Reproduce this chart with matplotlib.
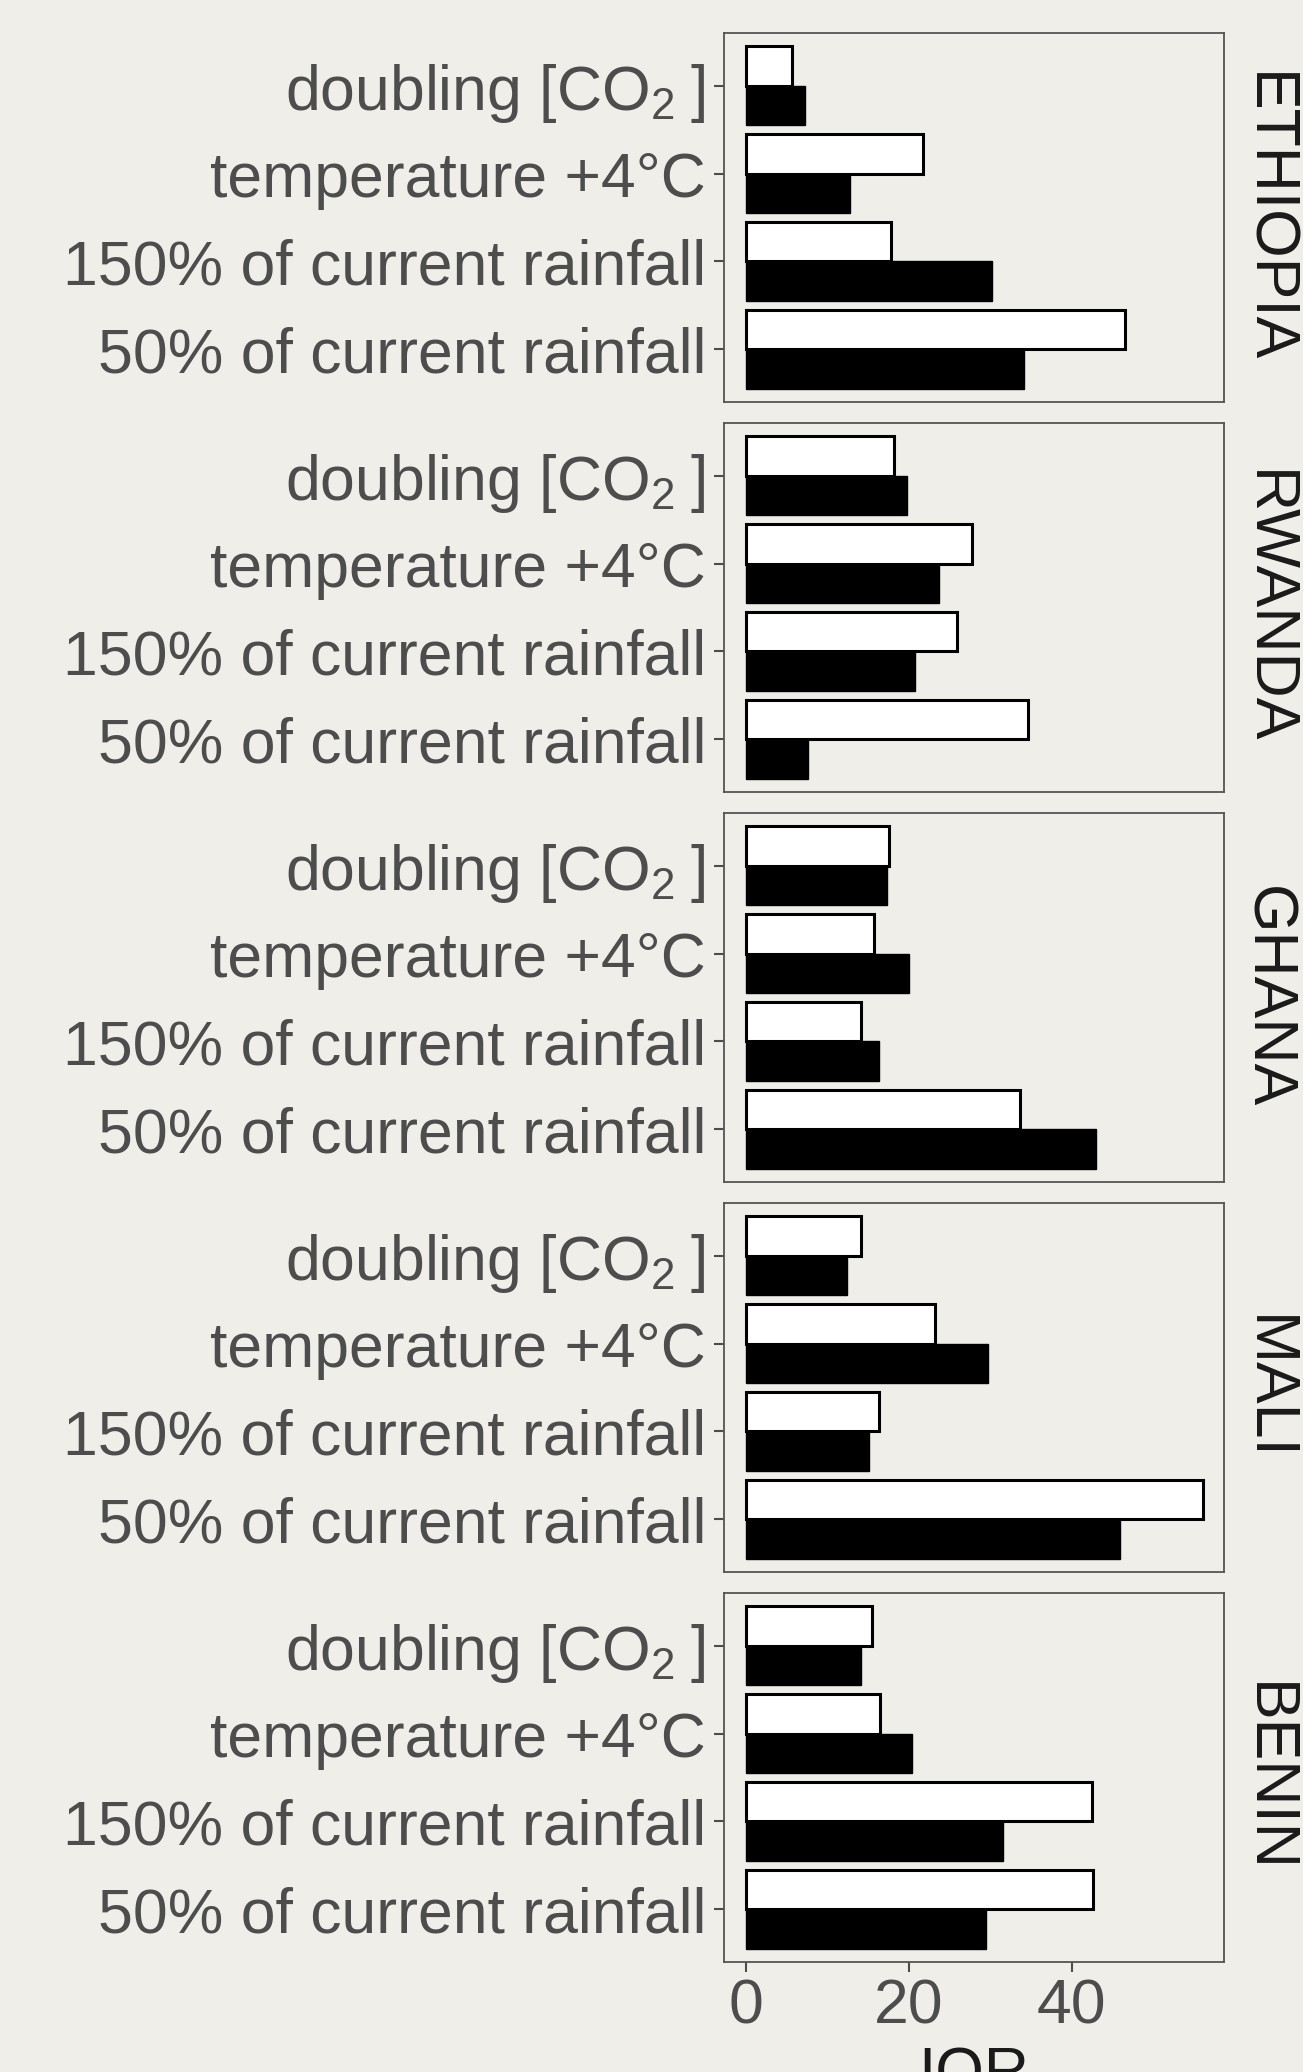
import matplotlib.pyplot as plt
import numpy as np

plt.rcParams['font.family'] = ['Liberation Sans', 'DejaVu Sans']
plt.rcParams['mathtext.fontset'] = 'custom'
plt.rcParams['mathtext.rm'] = 'Liberation Sans'
plt.rcParams['mathtext.it'] = 'Liberation Sans:italic'

BG = '#EFEEE8'

countries = ['ETHIOPIA', 'RWANDA', 'GHANA', 'MALI', 'BENIN']
# bottom -> top
scenarios = ['50% of current rainfall', '150% of current rainfall',
             'temperature +4°C', r'doubling [CO$_{2}\;$]']

white_vals = {
    'ETHIOPIA': [46.5, 17.8, 21.8, 5.75],
    'RWANDA':   [34.7, 26.0, 27.8, 18.2],
    'GHANA':    [33.7, 14.2, 15.75, 17.6],
    'MALI':     [56.1, 16.4, 23.2, 14.1],
    'BENIN':    [42.6, 42.5, 16.5, 15.5],
}
black_vals = {
    'ETHIOPIA': [34.2, 30.2, 12.8, 7.3],
    'RWANDA':   [7.7, 20.8, 23.7, 19.8],
    'GHANA':    [43.0, 16.4, 20.1, 17.4],
    'MALI':     [46.0, 15.1, 29.8, 12.5],
    'BENIN':    [29.5, 31.6, 20.4, 14.1],
}

W, H = 1303, 2072
fig = plt.figure(figsize=(W / 100, H / 100), dpi=100, facecolor=BG)

left, right = 724, 1224
tops = [33, 423, 813, 1203, 1593]
ph = 369
y = np.arange(1, 5)
bw = 0.45

axes = []
for i, c in enumerate(countries):
    ax = fig.add_axes([left / W, 1 - (tops[i] + ph) / H, (right - left) / W, ph / H])
    ax.set_facecolor(BG)
    ax.barh(y - bw / 2, black_vals[c], height=bw, color='black',
            edgecolor='black', linewidth=1.0)
    ax.barh(y + bw / 2, white_vals[c], height=bw, color='white',
            edgecolor='black', linewidth=2.2)
    ax.set_xlim(-2.65, 58.7)
    ax.set_ylim(0.4, 4.6)
    ax.set_yticks(y)
    ax.set_yticklabels(scenarios)
    ax.set_xticks([0, 20, 40])
    ax.tick_params(axis='y', labelsize=45, labelcolor='#4D4D4D', color='#4D4D4D',
                   length=7, width=1.5, pad=6)
    ax.tick_params(axis='x', labelsize=45, labelcolor='#4D4D4D', color='#4D4D4D',
                   length=7, width=1.5, pad=4)
    for s in ax.spines.values():
        s.set_color('#555555')
        s.set_linewidth(1.3)
    ax.text(1.086, 0.5, c, transform=ax.transAxes, rotation=-90,
            ha='center', va='center', fontsize=45, color='#1A1A1A')
    if i < len(countries) - 1:
        ax.tick_params(axis='x', bottom=False, labelbottom=False)
    axes.append(ax)

axes[-1].set_xlabel('IQR', fontsize=45, color='#1A1A1A', labelpad=6)

fig.savefig('out.png', dpi=100, facecolor=BG)
